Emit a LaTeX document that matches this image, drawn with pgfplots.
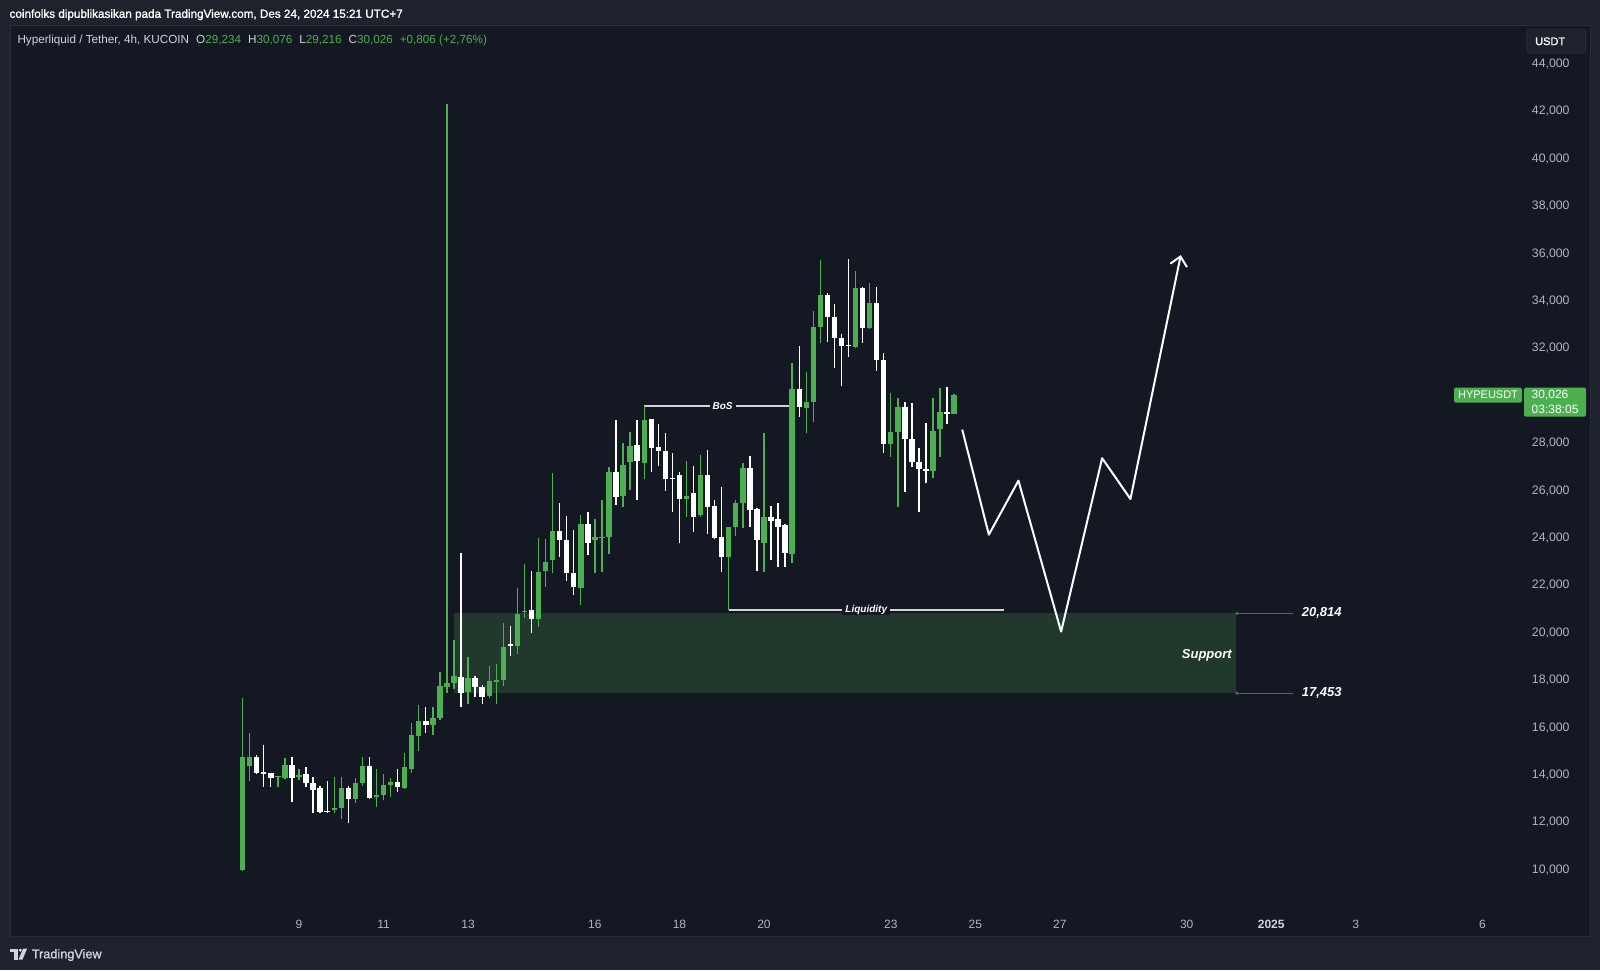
\documentclass[border=0pt]{standalone}
\usepackage{pgfplots}
\pgfplotsset{compat=1.18}
\usepackage{pgfplotstable}
\usetikzlibrary{arrows.meta}
\usepackage{fontspec}
\setmainfont{Liberation Sans}
\newfontfamily\semibold[FakeBold=1.2]{Liberation Sans}
\definecolor{outerbg}{HTML}{1E222D}
\definecolor{panebg}{HTML}{141823}
\definecolor{tvgreen}{HTML}{4CAF50}
\definecolor{tvtext}{HTML}{B2B5BE}
\definecolor{tvlight}{HTML}{D1D4DC}
\definecolor{zone}{HTML}{21382D}
\definecolor{greyline}{HTML}{5D606B}
\definecolor{framec}{HTML}{2A2E39}

% up (green) candles: index, open, high, low, close
\pgfplotstableread{
i o h l c
0 9990 17231 9950 14741
1 14375 15754 13756 14741
5 13911 13960 13474 13953
6 13854 14698 13840 14417
8 13897 14234 13784 13995
13 12518 13925 12377 12616
14 12616 13925 12124 13460
16 12968 13854 12827 13643
17 13672 14769 13531 14375
19 13052 14234 12630 13151
20 13151 14037 12940 13559
21 13559 13854 13080 13714
23 13460 14938 13420 14319
24 14234 16176 14094 15683
25 15641 16950 15022 16288
27 16105 16851 15683 16387
28 16387 18362 16300 17760
29 17727 42310 17476 17894
30 17894 19681 17644 18180
32 17510 18979 17008 18094
35 17343 18612 17226 17943
36 17927 18696 17008 18010
37 18010 20399 17760 19397
39 19430 21902 19096 20783
40 20884 22904 20616 20934
42 20566 23989 20232 22570
43 22603 23939 21935 22987
44 23071 26745 22537 24290
48 21902 24947 21151 24574
50 23906 24792 22537 24023
51 23982 25600 22575 24052
52 24052 26979 23320 26796
54 25769 27992 25290 27077
55 27218 28484 26022 27879
57 27176 29568 26472 28977
63 25628 27246 24896 25783
65 24967 27499 24896 26655
69 23208 24474 20957 24474
70 24446 25600 24080 25488
71 25459 27176 24404 26937
74 23799 28442 22575 24896
78 23320 31367 22927 30284
80 29496 30987 28413 29749
81 29749 33576 28905 32887
82 32887 35729 32240 34251
87 32071 35265 32030 34533
89 32845 34744 32802 33900
92 27948 30101 27400 28483
93 28483 29890 25317 29538
98 26836 29890 26513 28525
99 28595 30312 27400 29327
101 29234 30076 29216 30026
}\upc

% down (white) candles
\pgfplotstableread{
i o h l c
2 14741 14839 14037 14094
3 14108 15261 13503 14051
4 14065 14080 13503 13854
7 14417 14741 12869 13854
9 14023 14319 13503 13672
10 13643 13897 12377 13362
11 13460 13531 12377 12447
12 12475 13742 12405 12433
15 13460 13531 11955 12968
18 14375 14769 13000 13038
22 13714 14234 13291 13503
26 16288 16851 15782 16091
31 18128 23355 16860 17443
33 18094 18180 17276 17727
34 17727 17810 17008 17276
38 19514 20282 19013 19430
41 20950 22603 19981 20566
45 24290 25492 23188 23906
46 23906 24908 22186 22537
47 22537 24324 21601 21935
49 24574 25108 23271 23789
53 26796 28977 25389 25741
56 27921 28977 25600 27260
58 29005 29020 26796 27781
59 27823 28808 27035 27654
60 27682 28414 25994 26486
61 26514 27598 25107 26472
62 26655 26796 23771 25628
64 25881 27035 24263 24896
66 26655 27710 24165 25290
67 25347 25600 23950 23982
68 24024 26135 22575 23208
72 26937 27457 24474 25178
73 25206 25250 22617 23912
75 24896 25347 23067 24727
76 24784 25488 22786 24474
77 24545 24580 22786 23377
79 30284 32099 29116 29510
83 34251 34350 32282 33309
84 33309 33857 31156 32422
85 32422 32605 30424 32099
86 32141 35757 31648 32099
88 34533 34603 32240 32845
90 33900 34603 31058 31508
91 31508 31789 27596 27948
94 29538 29749 25950 28159
95 28159 29707 27005 27216
96 27216 27779 25106 26893
97 26893 28835 26302 26836
100 29327 30382 28792 29214
}\dnc

\begin{document}
\begin{tikzpicture}[x=1pt,y=1pt]
\fill[outerbg] (0,0) rectangle (1600,970);
\fill[panebg] (10,34) rectangle (1590,945);
\draw[framec, line width=0.8pt] (10,34) rectangle (1590,945);

\begin{axis}[
  at={(10pt,62pt)}, anchor=south west,
  scale only axis, width=1513pt, height=883pt,
  xmin=2.163, xmax=37.957, ymin=8383, ymax=45646,
  clip=false,
  axis line style={draw=none},
  major tick style={draw=none},
  xtick={9,11,13,16,18,20,23,25,27,30,32,34,37},
  xticklabels={9,11,13,16,18,20,23,25,27,30,{\color{tvlight}\bfseries 2025},3,6},
  xticklabel style={anchor=base, yshift=-20.3pt, inner sep=0pt, text=tvtext, font=\fontsize{12}{14}\selectfont},
  ytick={10000,12000,14000,16000,18000,20000,22000,24000,26000,28000,32000,34000,36000,38000,40000,42000,44000},
  yticklabel pos=right,
  scaled y ticks=false,
  yticklabel style={anchor=west, xshift=8.7pt, inner sep=0pt, text=tvtext, font=\fontsize{12.3}{14}\selectfont,
    /pgf/number format/.cd, fixed, 1000 sep={,}, assume math mode=true},
]
% support zone
\fill[zone] (axis cs:12.67,17453) rectangle (axis cs:31.16,20814);
\node[anchor=east, text=white, inner sep=0pt, font=\fontsize{13}{15}\selectfont\bfseries\itshape] at (axis cs:31.07,19060) {Support};
\addplot[greyline, line width=1pt] coordinates {(31.19,20814) (32.52,20814)};
\addplot[greyline, line width=1pt] coordinates {(31.19,17453) (32.52,17453)};
\addplot[only marks, mark=*, mark size=1.5pt, greyline] coordinates {(31.19,20814) (31.19,17453)};
\node[anchor=west, text=white, inner sep=0pt, font=\fontsize{13}{15}\selectfont\bfseries\itshape] at (axis cs:32.72,20814) {20,814};
\node[anchor=west, text=white, inner sep=0pt, font=\fontsize{13}{15}\selectfont\bfseries\itshape] at (axis cs:32.72,17453) {17,453};

% BoS and Liquidity lines
\addplot[tvlight, line width=1.3pt] coordinates {(17.167,29568) (20.667,29568)};
\node[fill=panebg, text=white, inner xsep=3pt, inner ysep=0.5pt, font=\fontsize{10}{12}\selectfont\bfseries\itshape] at (axis cs:19.02,29568) {BoS};
\addplot[tvlight, line width=1.3pt] coordinates {(19.167,20957) (25.68,20957)};
\node[fill=panebg, text=white, inner xsep=3pt, inner ysep=0.5pt, font=\fontsize{10}{12}\selectfont\bfseries\itshape] at (axis cs:22.42,20957) {Liquidity};

% candles
\addplot[tvgreen, line width=1.35pt, quiver={u=0, v=\thisrow{h}-\thisrow{l}}] table[x expr=7.6667+\thisrow{i}/6, y=l] {\upc};
\addplot[tvgreen, line width=5.4pt, quiver={u=0, v=\thisrow{c}-\thisrow{o}}] table[x expr=7.6667+\thisrow{i}/6, y=o] {\upc};
\addplot[white, line width=1.35pt, quiver={u=0, v=\thisrow{h}-\thisrow{l}}] table[x expr=7.6667+\thisrow{i}/6, y=l] {\dnc};
\addplot[white, line width=5.4pt, quiver={u=0, v=\thisrow{c}-\thisrow{o}}] table[x expr=7.6667+\thisrow{i}/6, y=o] {\dnc};

% projected path
\addplot[white, line width=2pt, line join=round, -{Straight Barb[length=9pt, width=17pt, line width=2pt]}] coordinates {
(24.69,28572) (25.32,24137) (26.02,26419) (27.03,20047) (28.0,27365) (28.67,25643) (29.86,35935)};
\end{axis}

% price labels on scale
\fill[tvgreen, rounded corners=1.5pt] (1454,567.3) rectangle (1522,582.3);
\node[text=white, inner sep=0pt, font=\fontsize{11}{13}\selectfont] at (1488,574.8) {HYPEUSDT};
\fill[tvgreen, rounded corners=1.5pt] (1524,553.3) rectangle (1586,582.3);
\node[anchor=west, text=white, inner sep=0pt, font=\fontsize{12}{14}\selectfont] at (1531.5,575) {30,026};
\node[anchor=west, text=white, inner sep=0pt, font=\fontsize{12}{14}\selectfont] at (1531.5,561) {03:38:05};

% USDT box
\draw[framec, fill=outerbg, line width=0.8pt, rounded corners=4pt] (1526.7,916.7) rectangle (1586,940.7);
\node[anchor=west, text=white, inner sep=0pt, font=\semibold\fontsize{11}{13}\selectfont] at (1535,928.7) {USDT};

% header
\node[anchor=base west, inner sep=0pt, text=white, font=\semibold\fontsize{11.7}{14}\selectfont] at (9.4,952.2)
  {coinfolks dipublikasikan pada TradingView.com, Des 24, 2024 15:21 UTC+7};
\node[anchor=base west, inner sep=0pt, font=\fontsize{11.7}{14}\selectfont] at (17.3,926)
  {\color{tvlight}Hyperliquid / Tether, 4h, KUCOIN\hspace{7pt}O\color{tvgreen}29,234\hspace{7pt}\color{tvlight}H\color{tvgreen}30,076\hspace{7pt}\color{tvlight}L\color{tvgreen}29,216\hspace{7pt}\color{tvlight}C\color{tvgreen}30,026\hspace{7pt}+0,806 (+2,76\%)};

% footer logo
\fill[tvlight] (9.5,18.5) rectangle (17.5,21.5);
\fill[tvlight] (14.3,10.5) rectangle (17.5,21.5);
\fill[tvlight] (20.3,19.8) circle (1.7);
\fill[tvlight] (23.2,21.5) -- (27.2,21.5) -- (22.5,10.5) -- (18.5,10.5) -- cycle;
\node[anchor=base west, inner sep=0pt, text=tvlight, font=\semibold\fontsize{12.7}{15}\selectfont] at (31.6,11.7) {TradingView};
\end{tikzpicture}
\end{document}
